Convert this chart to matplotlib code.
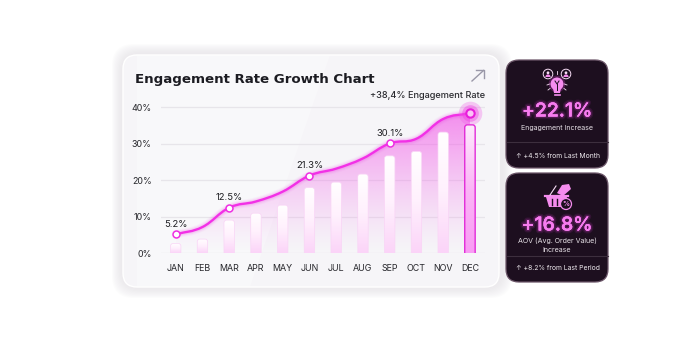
import numpy as np
import matplotlib
matplotlib.use("Agg")
import matplotlib.pyplot as plt
import matplotlib.patheffects as pe
from matplotlib.patches import FancyBboxPatch, PathPatch, Circle, Polygon, Wedge
from matplotlib.path import Path
from matplotlib.colors import LinearSegmentedColormap

plt.rcParams['font.family'] = ['Inter', 'DejaVu Sans']

months = ['JAN', 'FEB', 'MAR', 'APR', 'MAY', 'JUN', 'JUL', 'AUG', 'SEP', 'OCT', 'NOV', 'DEC']
line_values = [5.2, 7.2, 12.5, 14.2, 16.9, 21.3, 23.2, 26.0, 30.1, 31.4, 36.8, 38.4]
bar_values = [2.7, 3.9, 9.1, 11.0, 13.2, 18.0, 19.5, 21.7, 26.7, 27.9, 33.2, 35.2]
labelled = {0: '5.2%', 2: '12.5%', 5: '21.3%', 8: '30.1%'}
y_ticks = [0, 10, 20, 30, 40]
title = 'Engagement Rate Growth Chart'
top_note = '+38,4% Engagement Rate'

W, H = 673, 358
MAGENTA = '#f230e6'
DARK = '#1d0f1f'

fig = plt.figure(figsize=(W / 100, H / 100), dpi=100, facecolor='white')

# whole figure axes in pixels, for cards and icons
bg = fig.add_axes([0, 0, 1, 1])
bg.set_xlim(0, W)
bg.set_ylim(H, 0)
bg.axis('off')


def box(ax, x0, y0, x1, y1, r, **kw):
    p = FancyBboxPatch((x0 + r, y0 + r), x1 - x0 - 2 * r, y1 - y0 - 2 * r,
                       boxstyle='round,pad=%f,rounding_size=%f' % (r, r), **kw)
    ax.add_patch(p)
    return p


# soft shadow round the main card
for i in range(10):
    box(bg, 112 + i, 44 + i, 512 - i, 298 - i, 22, fc='#e4e2e6', ec='none', alpha=0.09, zorder=1)
box(bg, 123, 55, 499, 287, 14, fc='#f6f5f8', ec='white', lw=1, zorder=2)
bg.add_patch(Polygon([[137, 55], [330, 55], [250, 287], [137, 287]], fc='white', ec='none', alpha=0.3, zorder=2))

bg.text(135, 79.5, title, fontsize=9.6, fontweight='bold', family='DejaVu Sans', color='#1c1c22', va='center', zorder=5)
bg.text(485, 95.5, top_note, fontsize=6.6, fontweight='medium', color='#2b2b30', ha='right', va='center', zorder=5)

# arrow at the top right
bg.plot([472, 483.5], [81, 70.5], color='#9a98a8', lw=1, zorder=5)
bg.plot([475.5, 484, 484], [70, 70, 78], color='#9a98a8', lw=1, zorder=5)

# chart axes, placed so that 0% and 40% sit on the same pixels as the reference
x_per_px = 26.75
y_per_px = 3.65
left, right = 160.7, 485
bottom, top = 253.3, 92.7
ax = fig.add_axes([left / W, 1 - bottom / H, (right - left) / W, (bottom - top) / H], zorder=3)
ax.patch.set_alpha(0)
for s in ax.spines.values():
    s.set_visible(False)
ax.set_yticks(y_ticks)
ax.set_yticklabels(['%d%%' % v for v in y_ticks])
ax.set_xticks(range(len(months)))
ax.set_xticklabels(months)
ax.tick_params(length=0, labelsize=6.4, colors='#26262b', pad=7.5)
ax.tick_params(axis='y', pad=6.5)
ax.grid(axis='y', color='#e7e5ea', lw=0.9)
ax.grid(axis='x', visible=False)
ax.set_axisbelow(True)

# smooth curve through the points
xs = np.arange(len(line_values), dtype=float)
ys = np.array(line_values)
dy = np.gradient(ys)
verts = [(xs[0], ys[0])]
codes = [Path.MOVETO]
for i in range(len(xs) - 1):
    verts += [(xs[i] + 0.4, ys[i] + dy[i] * 0.4), (xs[i + 1] - 0.4, ys[i + 1] - dy[i + 1] * 0.4), (xs[i + 1], ys[i + 1])]
    codes += [Path.CURVE4] * 3
curve = Path(verts, codes)
area = Path(verts + [(xs[-1], 0), (xs[0], 0), (xs[0], ys[0])], codes + [Path.LINETO] * 3)

# pink area under the curve
grad = np.zeros((200, 2, 4))
grad[..., :3] = matplotlib.colors.to_rgb('#f23fe6')
grad[..., 3] = (np.linspace(0.66, 0, 200)[:, None] ** 1.25)
im = ax.imshow(grad, extent=[xs[0], xs[-1], 0, 40], aspect='auto', zorder=1, interpolation='bilinear')
clip = PathPatch(area, transform=ax.transData, fc='none', ec='none')
ax.add_patch(clip)
im.set_clip_path(clip)

# bars with a rounded top and vertical gradient
bar_w = 0.39
aspect = x_per_px / y_per_px
cm_bar = LinearSegmentedColormap.from_list('b', ['#ffffff', '#fff0fd', '#fbd4f8'])
cm_last = LinearSegmentedColormap.from_list('l', ['#fdeafc', '#fbb6f6', '#f99cf4'])
for i, v in enumerate(bar_values):
    last = i == len(bar_values) - 1
    g = np.linspace(0, 1, 100)[:, None]
    bim = ax.imshow(g, extent=[i - bar_w / 2, i + bar_w / 2, 0, v], aspect='auto',
                    cmap=cm_last if last else cm_bar, zorder=2, vmin=0, vmax=1)
    rnd = 0.1
    b = FancyBboxPatch((i - bar_w / 2 + rnd, -3), bar_w - 2 * rnd, v + 3 - rnd * aspect,
                       boxstyle='round,pad=%f,rounding_size=%f' % (rnd, rnd), mutation_aspect=aspect,
                       fc='none', ec='#e22bd8' if last else '#f9d4f6', lw=1.0 if last else 0.5, zorder=3)
    ax.add_patch(b)
    bim.set_clip_path(b)
ax.set_xlim((left - 175.7) / x_per_px, (right - 175.7) / x_per_px)
ax.set_ylim(0, (bottom - top) / y_per_px)

# glow, then the line
for lw, a in [(6, 0.05), (4.5, 0.08), (3.2, 0.12)]:
    ax.add_patch(PathPatch(curve, fc='none', ec='#f040e6', lw=lw, alpha=a, zorder=4, capstyle='round'))
ax.add_patch(PathPatch(curve, fc='none', ec=MAGENTA, lw=1.7, zorder=5, capstyle='round'))

# markers and labels
for i, s in labelled.items():
    ax.plot(i, line_values[i], 'o', ms=5.0, mfc='white', mec='#ee2fe2', mew=1.1, zorder=6)
    ax.annotate(s, (i, line_values[i]), xytext=(0, 5.5), textcoords='offset points', ha='center',
                fontsize=6.8, color='#1e1e22', zorder=7)
ax.plot(11, line_values[11], 'o', ms=17, mfc='#f05ae6', mec='none', alpha=0.3, zorder=6, clip_on=False)
ax.plot(11, line_values[11], 'o', ms=12, mfc='#f03ae4', mec='none', alpha=0.4, zorder=6, clip_on=False)
ax.plot(11, line_values[11], 'o', ms=6, mfc='#fbc4f6', mec='#e81ddb', mew=1.5, zorder=7, clip_on=False)

# side cards, drawn on top
fr = fig.add_axes([0, 0, 1, 1], zorder=4)
fr.set_xlim(0, W)
fr.set_ylim(H, 0)
fr.axis('off')
fr.patch.set_alpha(0)

glow = [pe.withStroke(linewidth=4, foreground='#f040e6', alpha=0.1),
        pe.withStroke(linewidth=2.2, foreground='#f040e6', alpha=0.16),
        pe.Normal()]


def card(y0, y1, big, big_y, lines, line_ys, div_y, foot, foot_y):
    box(fr, 506, y0, 608, y1, 13, fc=DARK, ec='#6b5568', lw=0.9)
    fr.text(557, big_y, big, fontsize=13.8, fontweight='semibold', color='#f77cef', ha='center', va='center', path_effects=glow)
    for s, y in zip(lines, line_ys):
        fr.text(557, y, s, fontsize=5.1, color='#e6e0e6', ha='center', va='center')
    fr.plot([506.5, 607.5], [div_y, div_y], color='#3d2f3e', lw=0.8)
    fr.text(558, foot_y, foot, fontsize=4.9, color='#efeaef', ha='center', va='center')


card(60, 168, '+22.1%', 111.5, ['Engagement Increase'], [128], 142, '↑ +4.5% from Last Month', 155.5)
card(173, 282, '+16.8%', 225.5, ['AOV (Avg. Order Value)', 'Increase'], [240.5, 250], 256, '↑ +8.2% from Last Period', 268.5)

PINK = '#f58cee'
LIGHT = '#f7dcf5'
# bulb icon with two people
fr.add_patch(Circle((557, 84), 6.3, fc=PINK, ec='none', path_effects=[pe.withStroke(linewidth=3, foreground='#f040e6', alpha=0.25), pe.Normal()]))
fr.add_patch(Polygon([[553, 88], [561, 88], [560, 93], [554, 93]], fc=PINK, ec='none'))
fr.plot([554.5, 559.5], [95, 95], color=PINK, lw=1.2)
fr.plot([555, 557, 559], [81, 84, 81], color=DARK, lw=0.7)
fr.plot([557, 557], [84, 90], color=DARK, lw=0.7)
for cx in [548, 566]:
    fr.add_patch(Circle((cx, 74), 4.8, fc=DARK, ec=LIGHT, lw=0.7))
    fr.add_patch(Circle((cx, 72.8), 1.4, fc=LIGHT, ec='none'))
    fr.add_patch(Wedge((cx, 77), 2.6, 180, 360, fc=PINK, ec='none'))
for xa, xb, ya, yb in [(557, 557, 71, 74), (547, 549.5, 85, 84), (567, 564.5, 85, 84), (548, 550, 90, 88.5), (566, 564, 90, 88.5)]:
    fr.plot([xa, xb], [ya, yb], color=LIGHT, lw=0.6)

# basket icon with tag and percent badge
fr.add_patch(Polygon([[546, 197], [567, 197], [564, 207], [549, 207]], fc=PINK, ec='none'))
fr.plot([545, 568], [195.5, 195.5], color=PINK, lw=1.6)
fr.plot([550, 556], [195, 186], color=LIGHT, lw=0.8)
fr.add_patch(Polygon([[557, 193], [562, 185], [569, 184], [571, 189], [563, 196]], fc=PINK, ec='none'))
for x in [552, 556.5]:
    fr.plot([x, x], [198.5, 205], color=DARK, lw=1.0)
fr.add_patch(Circle((566, 204), 5.5, fc=DARK, ec=PINK, lw=0.9))
fr.text(566, 204, '%', fontsize=5, color=PINK, ha='center', va='center', fontweight='bold')

fig.savefig('out.png', dpi=100, facecolor='white')
